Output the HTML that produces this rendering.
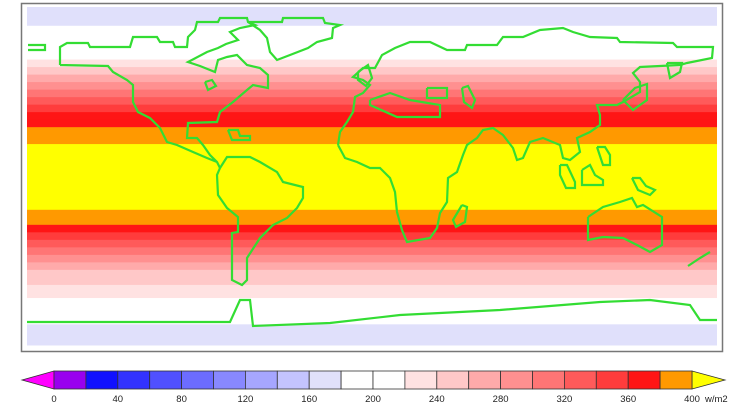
<!DOCTYPE html>
<html><head><meta charset="utf-8">
<style>
html,body{margin:0;padding:0;background:#fff;width:750px;height:414px;overflow:hidden;font-family:"Liberation Sans",sans-serif;}
</style></head>
<body>
<svg id="chart" width="750" height="414" xmlns="http://www.w3.org/2000/svg">
<rect x="21.5" y="3.5" width="701" height="348" fill="#fff" stroke="#777" stroke-width="1.5"/>
<g id="bands"></g>
<g id="coast" fill="none" stroke="#33dd33" stroke-width="2.2" stroke-linejoin="miter"></g>
<g id="cbar"></g>
</svg>
<script>
// Latitude band edges (deg) and band values (W/m2)
const latEdges = [90,80,62,58,54,50,46,42,38,34,30,26,17,-18,-26,-30,-34,-38,-42,-46,-50,-54,-58,-65,-79,-90];
const bandValues = [170,190,230,250,270,290,310,330,350,370,370,390,410,390,370,350,330,310,290,270,250,240,230,190,170];
// Colorbar levels
const levelTicks = [0,40,80,120,160,200,240,280,320,360,400];
const levelColors = ["#9900ee","#1010ff","#3232ff","#5050ff","#6c6cff","#8888ff","#a6a6ff","#c4c4ff","#e0e0fb","#ffffff","#ffffff","#ffe2e2","#ffc8c8","#ffaaaa","#ff9090","#ff7575","#ff5a5a","#ff3c3c","#ff1515","#ff9900"];
const lowColor = "#ff00ff", highColor = "#ffff00";

const NS="http://www.w3.org/2000/svg";
const X0=27,X1=717,Y0=7,Y1=345;
const yLat = lat => Y0 + (90-lat)*(Y1-Y0)/180;
const colorFor = v => v<0?lowColor:(v>=400?highColor:levelColors[Math.floor(v/20)]);

const bands=document.getElementById('bands');
bandValues.forEach((v,i)=>{
  const r=document.createElementNS(NS,'rect');
  const ya=yLat(latEdges[i]), yb=yLat(latEdges[i+1]);
  r.setAttribute('x',X0);r.setAttribute('y',ya);r.setAttribute('width',X1-X0);r.setAttribute('height',yb-ya+0.5);
  r.setAttribute('fill',colorFor(v));
  
  
  bands.appendChild(r);
});

// coastlines (approximate outlines)
const shapes = {
 "north-america":"60,65 60,47 67,43 88,43 90,47 130,47 133,37 157,37 160,42 173,42 175,47 187,47 188,37 195,30 197,22 218,22 220,18 247,18 248,22 255,25 240,28 230,32 238,40 226,44 218,48 207,52 188,62 200,66 215,72 218,60 227,57 237,55 247,65 260,68 268,75 268,88 253,85 247,90 233,102 220,112 217,122 188,123 187,138 197,138 203,145 210,155 217,162 220,168 217,162 207,158 193,152 177,145 167,142 160,128 150,118 138,112 133,102 133,85 127,80 113,72 108,66 60,65",
 "greenland":"248,22 282,22 283,18 323,18 325,23 340,25 333,28 332,38 317,42 308,48 290,55 277,60 270,52 267,38 260,30 248,22",
 "south-america":"220,168 217,175 218,195 227,208 238,217 238,232 232,233 232,280 242,285 247,280 247,258 260,238 273,225 287,218 297,208 303,198 303,187 283,182 277,172 260,162 250,157 227,157 220,168",
 "eurasia-africa":"338,145 340,132 347,122 353,112 355,97 363,93 370,85 363,80 353,77 363,68 375,68 382,55 395,48 410,42 430,42 447,50 465,50 467,45 497,45 503,37 523,37 540,30 563,28 573,32 590,37 617,38 620,42 673,43 677,47 713,47 712,58 687,63 680,65 640,67 633,73 640,82 640,92 623,102 617,105 597,105 600,115 600,125 590,132 577,138 580,152 570,160 563,158 560,145 543,138 530,142 523,158 517,160 513,148 503,135 493,128 483,130 477,138 467,145 463,155 457,172 448,178 447,202 440,213 437,228 430,238 407,242 402,230 397,212 395,192 390,178 380,168 370,168 357,162 345,158 338,145",
 "mediterranean":"370,100 390,93 410,100 440,105 440,117 397,117 370,105 370,100",
 "caspian":"427,88 447,88 447,98 427,98 427,88",
 "lake-aral":"462,88 468,86 475,100 472,108 464,102 462,88",
 "madagascar":"462,205 467,207 465,222 456,227 453,220 462,205",
 "australia":"588,217 603,207 620,202 632,198 637,207 643,205 662,217 662,245 650,252 637,245 623,238 603,237 588,240 588,217",
 "antarctica":"27,322 230,322 240,300 250,300 253,326 330,323 400,315 500,310 600,302 650,300 690,305 700,320 717,320",
 "japan":"623,100 635,88 647,84 647,100 633,110 623,100",
 "kamchatka":"667,63 682,63 680,72 670,78 667,63",
 "britain":"358,72 368,65 372,78 366,86 358,80 358,72",
 "alaska-west":"28,45 45,45 45,50 28,50",
 "sumatra":"560,165 567,165 575,182 575,188 566,188 560,175 560,165",
 "borneo":"582,170 590,165 595,175 603,180 603,185 582,185 582,170",
 "philippines":"597,147 605,147 610,155 610,165 603,165 597,147",
 "new-guinea":"632,178 640,178 646,186 655,190 650,195 638,190 632,178",
 "new-zealand":"688,266 700,258 710,252",
 "caribbean":"228,130 238,130 240,136 250,136 250,140 232,140 228,130",
 "great-lakes":"205,82 212,80 216,86 208,90 205,82"
};
const coast=document.getElementById('coast');
for(const k in shapes){
  const p=document.createElementNS(NS,'polyline');
  p.setAttribute('points',shapes[k]);
  
  
  coast.appendChild(p);
}

// colorbar
const cb=document.getElementById('cbar');
const CX0=54,CX1=692,CY0=371,CY1=389;
const xv=v=>CX0+(CX1-CX0)*v/400;
const tl=document.createElementNS(NS,'polygon');
tl.setAttribute('points',`${CX0},${CY0} ${CX0},${CY1} 22,${(CY0+CY1)/2}`);
tl.setAttribute('fill',lowColor);tl.setAttribute('stroke','#333');tl.setAttribute('stroke-width','0.8');


cb.appendChild(tl);
const th=document.createElementNS(NS,'polygon');
th.setAttribute('points',`${CX1},${CY0} ${CX1},${CY1} 725,${(CY0+CY1)/2}`);
th.setAttribute('fill',highColor);th.setAttribute('stroke','#333');th.setAttribute('stroke-width','0.8');


cb.appendChild(th);
levelColors.forEach((c,i)=>{
  const r=document.createElementNS(NS,'rect');
  r.setAttribute('x',xv(i*20));r.setAttribute('y',CY0);r.setAttribute('width',xv(20)-xv(0));r.setAttribute('height',CY1-CY0);
  r.setAttribute('fill',c);r.setAttribute('stroke','#333');r.setAttribute('stroke-width','0.8');
  
  
  cb.appendChild(r);
});
levelTicks.forEach(v=>{
  const t=document.createElementNS(NS,'text');
  t.setAttribute('x',xv(v));t.setAttribute('y',402);t.setAttribute('text-anchor','middle');
  t.setAttribute('font-size','9.5');t.setAttribute('fill','#222');
  t.textContent=v;
  
  
  cb.appendChild(t);
});
const u=document.createElementNS(NS,'text');
u.setAttribute('x',705);u.setAttribute('y',402);u.setAttribute('font-size','9.5');u.setAttribute('fill','#222');
u.textContent='w/m2';


cb.appendChild(u);
</script>
</body></html>
